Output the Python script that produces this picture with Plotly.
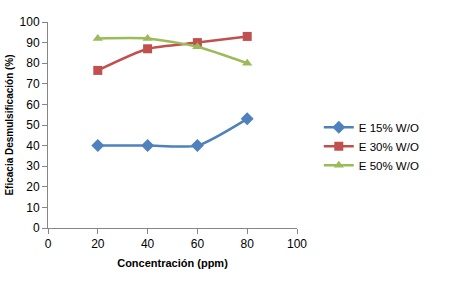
import plotly.graph_objects as go

conc = [20, 40, 60, 80]
e15 = [40, 40, 40, 53]
e30 = [76.5, 87, 90, 93]
e50 = [92, 92, 88, 80]
names = ["E 15% W/O", "E 30% W/O", "E 50% W/O"]
colors = ["#4F81BD", "#C0504D", "#9BBB59"]
symbols = ["diamond", "square", "triangle-up"]

fig = go.Figure()
for vals, name, col, sym in zip([e15, e30, e50], names, colors, symbols):
    fig.add_trace(go.Scatter(
        x=conc, y=vals, name=name, mode="lines+markers",
        line=dict(color=col, width=2.5, shape="spline", smoothing=0.6),
        marker=dict(symbol=sym, size=10 if sym == "diamond" else 9, color=col),
    ))

font = "Liberation Sans, Arial, sans-serif"
fig.update_layout(
    width=449, height=284,
    margin=dict(l=48, r=152, t=22, b=56, autoexpand=False),
    paper_bgcolor="white", plot_bgcolor="white",
    font=dict(family=font, size=11, color="#000"),
    showlegend=True,
    legend=dict(xref="container", yref="container", x=0.71, y=0.485,
                xanchor="left", yanchor="middle",
                font=dict(size=11.5), tracegroupgap=0, itemwidth=30,
                bgcolor="rgba(0,0,0,0)"),
    xaxis=dict(range=[0, 100], tickvals=[0, 20, 40, 60, 80, 100],
               showgrid=False, zeroline=False, showline=True, automargin=False,
               linecolor="#868686", linewidth=1, ticks="outside",
               tickcolor="#868686", ticklen=5, tickfont=dict(size=12),
               title=dict(text="<b>Concentración (ppm)</b>", font=dict(size=11), standoff=8)),
    yaxis=dict(range=[0, 100], tickvals=list(range(0, 101, 10)),
               showgrid=False, zeroline=False, showline=True, automargin=False,
               linecolor="#868686", linewidth=1, ticks="outside",
               tickcolor="#868686", ticklen=5, tickfont=dict(size=12),
               title=dict(text="<b>Eficacia Desmulsificación (%)</b>", font=dict(size=10), standoff=4)),
)
fig.write_html("out.html", config={"displayModeBar": False},
               post_script="document.body.style.margin='0';")
